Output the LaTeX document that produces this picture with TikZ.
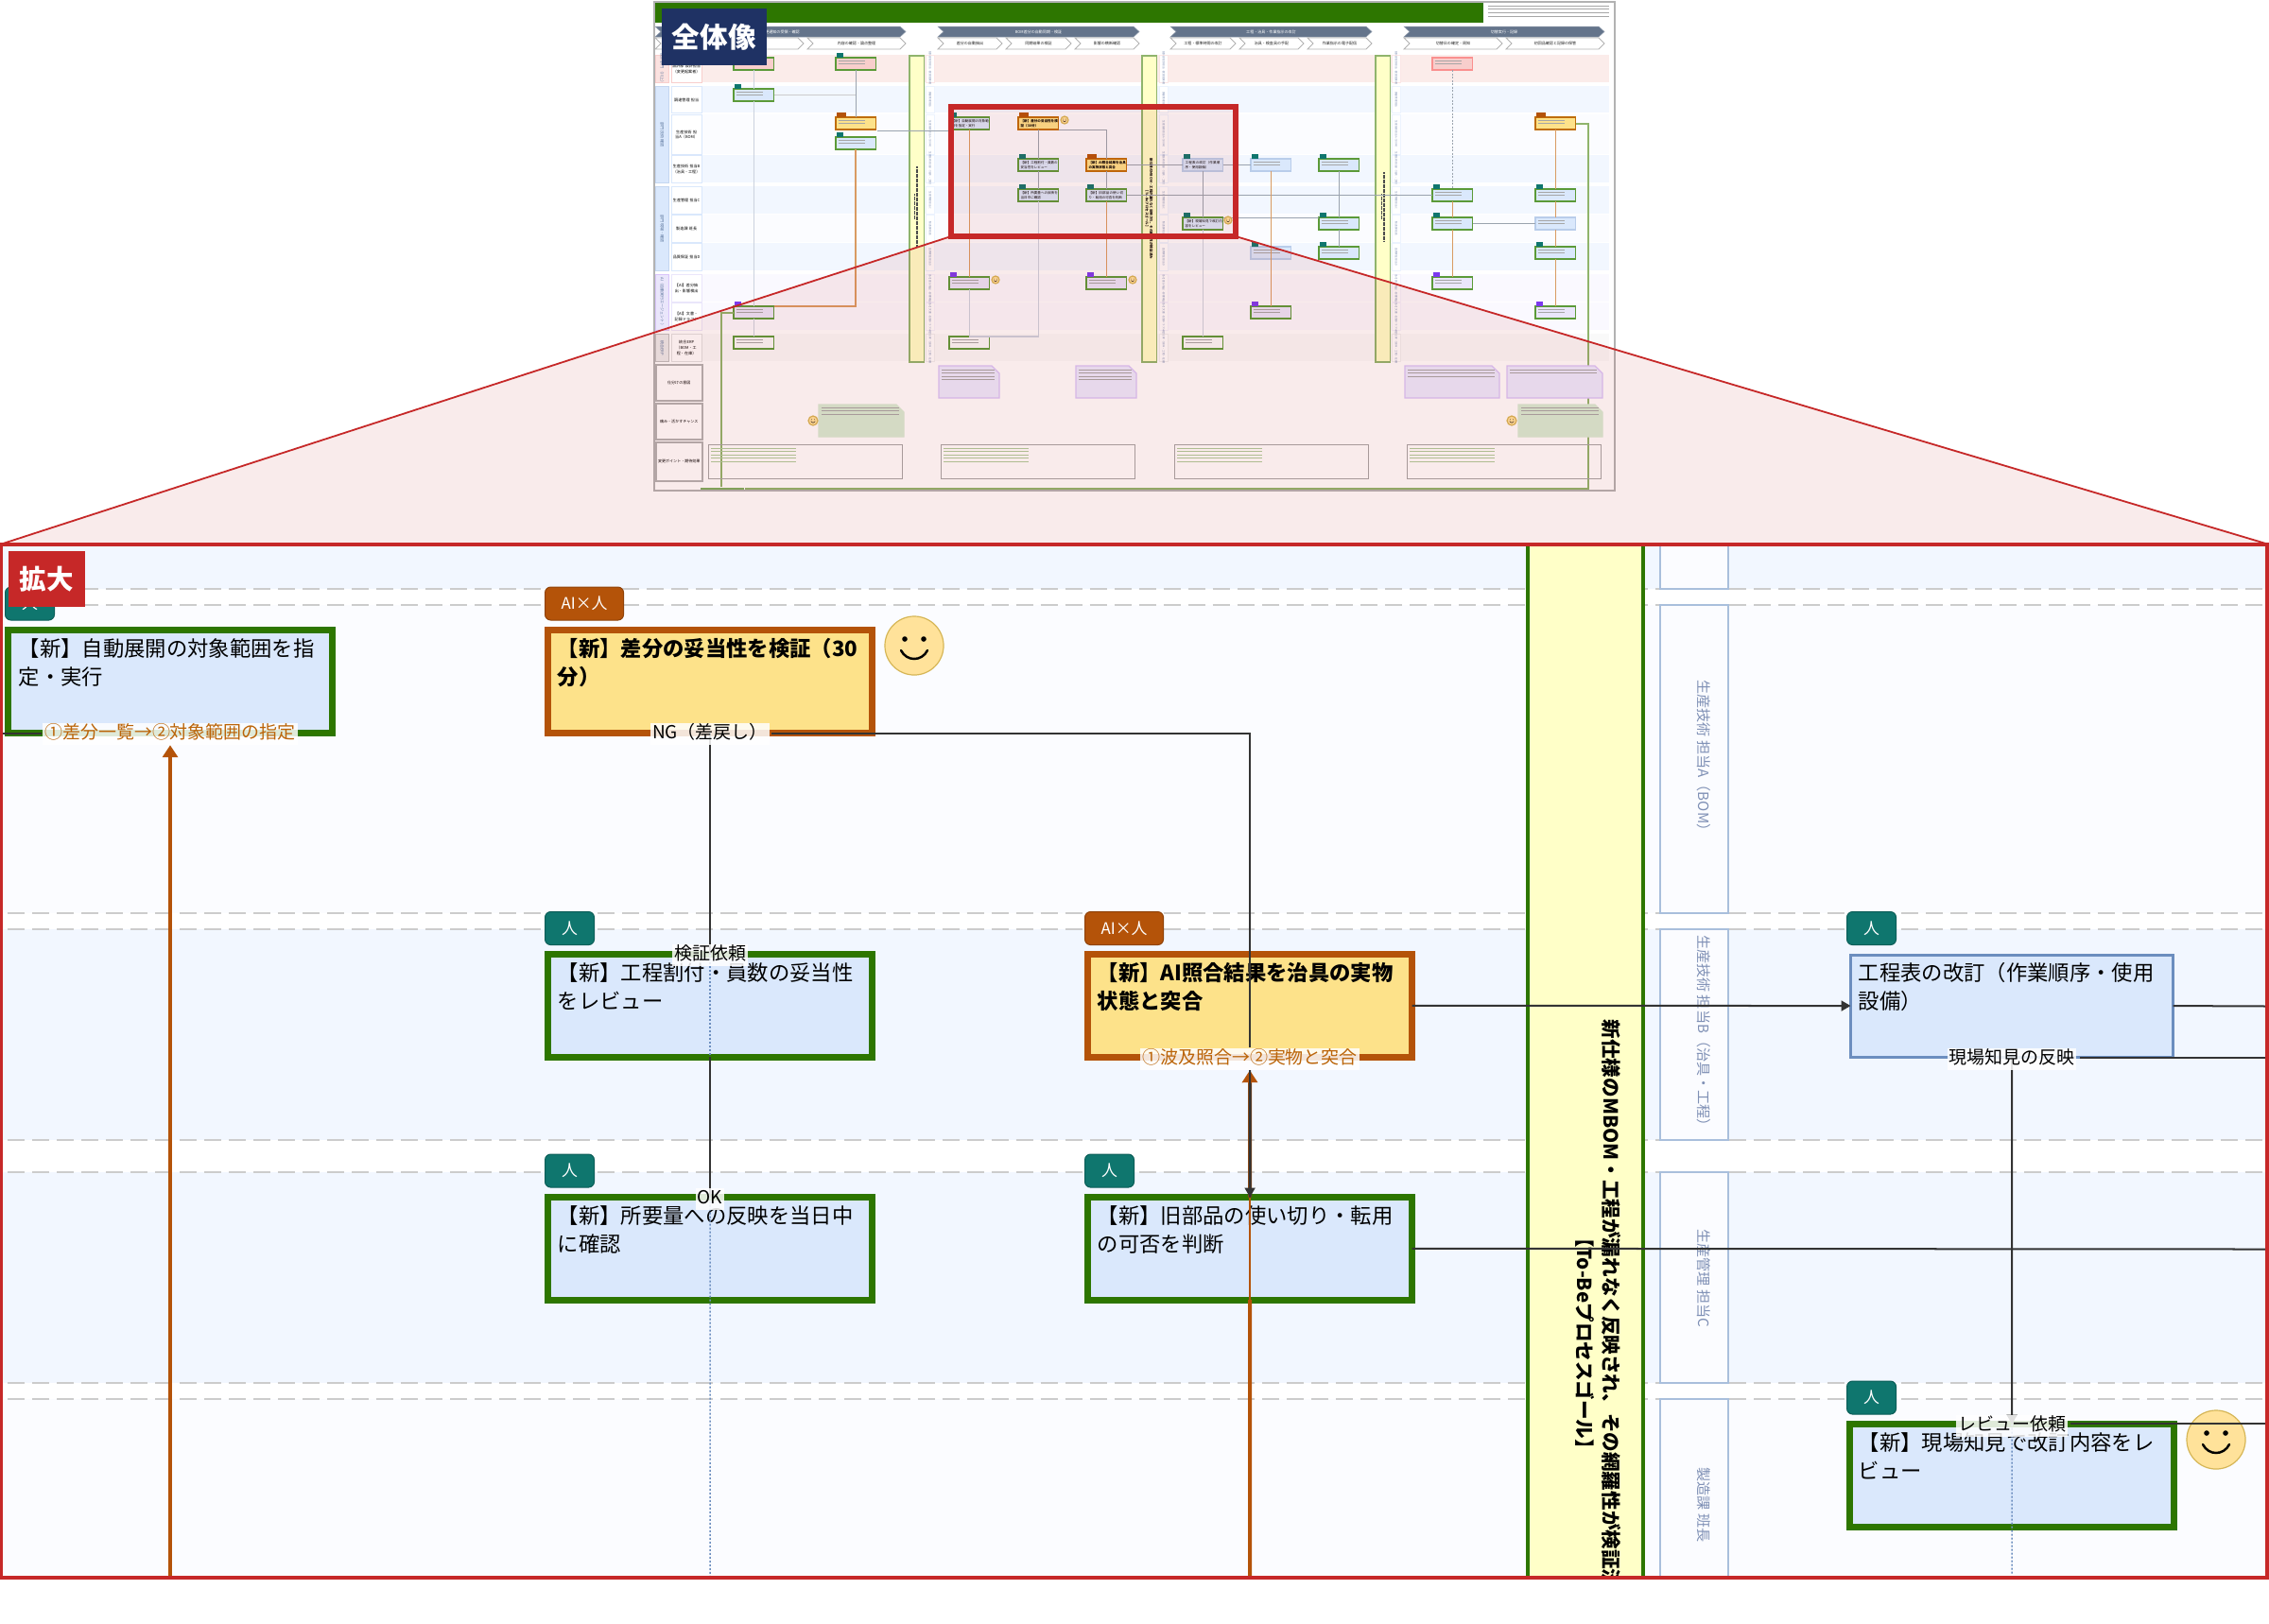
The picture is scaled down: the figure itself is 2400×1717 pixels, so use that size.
\documentclass[tikz,border=0pt]{standalone}
\usepackage{fontspec}
\setmainfont{Noto Sans CJK JP}
\XeTeXlinebreaklocale "ja"
\XeTeXlinebreakskip=0pt plus .1pt
\usetikzlibrary{arrows.meta,calc}
\definecolor{grn}{HTML}{2D7600}
\definecolor{ogn}{HTML}{B45309}
\definecolor{teal1}{HTML}{0F766E}
\definecolor{navy1}{HTML}{1F3264}
\definecolor{red1}{HTML}{C62828}
\definecolor{bluef}{HTML}{DAE8FC}
\definecolor{blueb}{HTML}{6C8EBF}
\definecolor{yelf}{HTML}{FDE28A}
\definecolor{bandf}{HTML}{FFFFC8}
\definecolor{laneA}{HTML}{F2F7FF}
\definecolor{laneB}{HTML}{FBFCFF}
\definecolor{laneR}{HTML}{FBECEA}
\definecolor{laneP}{HTML}{FAF9FF}
\definecolor{laneG}{HTML}{F9F9F9}
\definecolor{dashg}{HTML}{CCCCCC}
\definecolor{strip}{HTML}{A9BFDC}
\definecolor{striptx}{HTML}{7F90B5}
\definecolor{darkl}{HTML}{333333}
\definecolor{facef}{HTML}{FFE29A}
\definecolor{faced}{HTML}{D6B656}
\definecolor{slate}{HTML}{64748B}
\definecolor{ovg}{HTML}{5B9A38}
\definecolor{ovo}{HTML}{C9701F}
\definecolor{ovgray}{HTML}{9AA3AE}
\definecolor{ovpale}{HTML}{CBD2DE}
\definecolor{ovline}{HTML}{8FB46C}
\definecolor{purf}{HTML}{EAE6FB}
\definecolor{purb}{HTML}{7C3AED}
\definecolor{pinkf}{HTML}{F8CECC}
\definecolor{notep}{HTML}{EBEAFF}
\definecolor{noteg}{HTML}{D6ECD4}
\definecolor{grayn}{HTML}{E0E0E0}
\tikzset{
  mainb/.style={draw=grn,fill=bluef,line width=.07cm,minimum width=3.43cm,minimum height=1.085cm,inner sep=0pt,outer sep=0pt,anchor=north west},
  mainy/.style={mainb,draw=ogn,fill=yelf},
  mainth/.style={draw=blueb,fill=bluef,line width=.03cm,minimum width=3.41cm,minimum height=1.08cm,inner sep=0pt,outer sep=0pt,anchor=north west},
  btext/.style={font=\fontsize{6.35pt}{8.4pt}\selectfont,align=left,inner sep=0pt,anchor=north west},
  bbold/.style={font=\fontsize{6.35pt}{8.4pt}\selectfont\bfseries,align=left,inner sep=0pt,anchor=north west},
  badge/.style={rounded corners=.06cm,draw=#1!80!black,fill=#1,text=white,font=\fontsize{4.8pt}{5pt}\selectfont,inner sep=0pt,minimum height=.35cm,line width=.01cm,anchor=north west},
  lab/.style={fill=white,fill opacity=.85,text opacity=1,font=\fontsize{5.4pt}{6pt}\selectfont,inner sep=.02cm,text height=.15cm,text depth=.04cm},
  labo/.style={lab,text=ogn!90!yellow},
  dashl/.style={draw=dashg,line width=.02cm,dash pattern=on .18cm off .08cm},
  sline/.style={draw=darkl,line width=.02cm},
  oline/.style={draw=ogn,line width=.045cm},
  dotl/.style={draw=blueb,line width=.015cm,dash pattern=on .02cm off .02cm},
  tipd/.style={-{Triangle[length=.1cm,width=.11cm]}},
  tipo/.style={-{Triangle[length=.13cm,width=.16cm]}},
  stripb/.style={draw=strip,line width=.012cm,fill=laneB},
  striptext/.style={rotate=-90,text=striptx,font=\fontsize{4.3pt}{5pt}\selectfont,inner sep=0pt},
  ovb/.style={line width=.015cm,minimum width=.425cm,minimum height=.13cm,inner sep=0pt,outer sep=0pt,anchor=north west},
  ovgb/.style={ovb,draw=ovg,fill=bluef},
  ovyb/.style={ovb,draw=ogn!85!yellow,fill=yelf},
  ovpb/.style={ovb,draw=ovg,fill=purf},
  ovrb/.style={ovb,draw=ovg,fill=pinkf},
  ovwb/.style={ovb,draw=ovg,fill=laneG},
  ovtb/.style={ovb,draw=bluef!70!blueb,fill=bluef},
  ovpkb/.style={ovb,draw=pinkf!70!red,fill=pinkf},
  ovt/.style={font=\fontsize{1pt}{1.35pt}\selectfont,align=left,inner sep=0pt,anchor=north west,text width=.4cm},
  ovtx/.style={font=\fontsize{1.15pt}{1.5pt}\selectfont,align=center,inner sep=0pt,text=black!85},
  ovconn/.style={draw=ovgray,line width=.01cm},
  ovpalec/.style={draw=ovpale,line width=.012cm},
  ovorg/.style={draw=ovo!70!white,line width=.012cm},
  phasep/.style={fill=slate,draw=slate!70!white,line width=.005cm},
  subp/.style={fill=white,draw=black!30,line width=.008cm},
  greekl/.style={draw=black!35,line width=.009cm}
}
\newcommand{\greekk}[6]{\foreach \gi in {1,...,#4}{\draw[#6,line cap=butt] (#1,{#2+(\gi-1)*#5}) -- ++(#3,0);}}
\newcommand{\facee}[4]{% name,cx,cy,r
  \node[circle,draw=faced,fill=facef,line width=.012cm,minimum size=#4*.02cm,inner sep=0pt] (#1) at (#2,#3) {};
  \begin{scope}[shift={(#2,#3)},scale=#4/31]
    \fill (-10,-7) circle (2.8); \fill (10,-7) circle (2.8);
    \draw[line width=#4*.0008cm,line cap=round] (-14,5) .. controls (-8,17) and (8,17) .. (14,5);
  \end{scope}}
\newcommand{\ovbx}[4]{\node[#4] (#1) at (#2,#3) {}; \greekk{#2+2.5}{#3+3}{28}{2}{3.5}{greekl}}
\newcommand{\ovbxt}[5]{\node[#4] (#1) at (#2,#3) {}; \node[ovt] (#1t) at (#2+2,#3+2) {#5};}
\newcommand{\ovbd}[5]{\node[fill=#5,inner sep=0pt,minimum width=#4*.01cm,minimum height=.045cm,anchor=north west] (#1) at (#2,#3-5.5) {};}
\newcommand{\chev}[7]{% name x1 x2 y1 y2 style text
  \draw[#6] (#2,#4) -- (#3-6,#4) -- (#3,{(#4+#5)/2}) -- (#3-6,#5) -- (#2,#5) -- (#2+6,{(#4+#5)/2}) -- cycle;
  \node[ovtx] (#1) at ({(#2+#3)/2},{(#4+#5)/2}) {#7};}
\newcommand{\fold}[6]{% x1 y1 x2 y2 fill draw
  \draw[fill=#5,draw=#6,line width=.012cm] (#1,#2) -- (#3-8,#2) -- (#3,#2+8) -- (#3,#4) -- (#1,#4) -- cycle;}
\begin{document}
\begin{tikzpicture}[x=0.01cm,y=-0.01cm]
\useasboundingbox (0,0) rectangle (2400,1717);
\fill[white] (0,0) rectangle (2400,1717);
%% ---------- overview ----------
\foreach \ya/\yb/\cc in {58/87/laneR,91/119/laneA,121/163/laneB,164/193/laneA,197/226/laneA,227/256/laneB,257/286/laneA,290/319/laneP,320/349/laneP,353/382/laneG}{
  \fill[\cc] (743,\ya) rectangle (1702,\yb);
}
\fill[grn] (693,3) rectangle (1569,24);
\greekk{1574}{6}{128}{4}{3.8}{greekl}
% phases
\chev{ph1}{693}{958}{28}{39}{phasep}{\textcolor{white}{変更通知の受領・確認}}
\chev{ph2}{992}{1205}{28}{39}{phasep}{\textcolor{white}{BOM差分の自動同期・検証}}
\chev{ph3}{1238}{1451}{28}{39}{phasep}{\textcolor{white}{工程・治具・作業指示の改訂}}
\chev{ph4}{1485}{1697}{28}{39}{phasep}{\textcolor{white}{切替実行・記録}}
\chev{s11}{693}{850}{40}{52}{subp}{}
\chev{s12}{854}{958}{40}{52}{subp}{内容の確認・論点整理}
\chev{s21}{992}{1060}{40}{52}{subp}{差分の自動抽出}
\chev{s22}{1064}{1133}{40}{52}{subp}{同期結果の検証}
\chev{s23}{1137}{1205}{40}{52}{subp}{影響の横断確認}
\chev{s31}{1238}{1307}{40}{52}{subp}{工程・標準時間の改訂}
\chev{s32}{1311}{1379}{40}{52}{subp}{治具・検査具の手配}
\chev{s33}{1383}{1451}{40}{52}{subp}{作業指示の電子配信}
\chev{s41}{1485}{1589}{40}{52}{subp}{切替日の確定・周知}
\chev{s42}{1593}{1697}{40}{52}{subp}{初回品確認と記録の保管}
% group + lane names
\foreach \nn/\ya/\yb/\cc/\dd/\ttx in {g1/58/87/pinkf!60!white/pinkf/設計部門（川上）,g2/91/193/bluef/bluef!80!blueb/部門 技術確認,g3/197/286/bluef/bluef!80!blueb/部門 現場・確認,g4/290/349/purf/purb!30!white/AI（自動実行エージェント）,g5/353/382/black!8/black!25/統合ERP}{
  \node[fill=\cc,draw=\dd,line width=.01cm,minimum width=.14cm,minimum height={(\yb-\ya)*.01cm},inner sep=0pt,anchor=north west] (\nn) at (693,\ya) {};
  \node[ovtx,rotate=-90,text=blueb!80!black] (\nn t) at (\nn.center) {\ttx};
}
\foreach \nn/\ya/\yb/\dd/\ttx in {
 n1/58/87/pinkf/設計部 設計担当（変更起案者）,
 n2/91/119/bluef/調達管理 担当,
 n3/121/163/bluef/生産技術 担当A（BOM）,
 n4/164/193/bluef/生産技術 担当B（治具・工程）,
 n5/197/226/bluef/生産管理 担当C,
 n6/227/256/bluef/製造課 班長,
 n7/257/286/bluef/品質保証 担当D,
 n8/290/319/purf/【AI】差分抽出・影響検出,
 n9/320/349/purf/【AI】文書・記録ドラフト,
 n10/353/382/grayn/統合ERP（BOM・工程・在庫）}{
  \node[fill=white,draw=\dd,line width=.012cm,minimum width=.32cm,minimum height={(\yb-\ya)*.01cm},inner sep=0pt,anchor=north west,align=center,text width=.3cm,font=\fontsize{1.15pt}{1.6pt}\selectfont] (\nn) at (709.5,\ya) {\ttx};
  \foreach \cx in {979,1226,1472}{
    \node[fill=white,draw=\dd!50!white,line width=.006cm,minimum width=.09cm,minimum height={(\yb-\ya)*.01cm},inner sep=0pt,anchor=north west] (\nn c\cx) at (\cx,\ya) {};
    \node[rotate=-90,font=\fontsize{.75pt}{.9pt}\selectfont,text=striptx,inner sep=0pt] (\nn ct\cx) at (\nn c\cx.center) {\ttx};
  }
}
\foreach \nn/\ya/\yb/\ttx in {n11/385/423/仕分けの意図,n12/426/464/痛み・活かすチャンス,n13/467/508/変更ポイント・期待効果}{
  \node[fill=white,draw=black!30,line width=.015cm,minimum width=.49cm,minimum height={(\yb-\ya)*.01cm},inner sep=0pt,anchor=north west,align=center,font=\fontsize{1.15pt}{1.6pt}\selectfont] (\nn) at (693,\ya) {\ttx};
}
% bands
\foreach \nn/\xa in {bd1/961,bd2/1207,bd3/1454}{
  \node[fill=bandf,draw=ovline,line width=.015cm,minimum width=.155cm,minimum height=3.24cm,inner sep=0pt,anchor=north west] (\nn) at (\xa,58) {};
}
\node[rotate=-90,font=\fontsize{1pt}{1.3pt}\selectfont\bfseries,align=center,inner sep=0pt] (bd2t) at (bd2.center) {新仕様のMBOM・工程が漏れなく反映され、その網羅性が検証済み\\【To-Beプロセスゴール】};
\draw[black!70,line width=.012cm,dash pattern=on .02cm off .005cm] (970,176) -- (970,262);
\draw[black!70,line width=.01cm,dash pattern=on .02cm off .005cm] (967,205) -- (967,232);
\draw[black!70,line width=.012cm,dash pattern=on .02cm off .005cm] (1464,182) -- (1464,256);
\draw[black!70,line width=.01cm,dash pattern=on .02cm off .005cm] (1461,205) -- (1461,232);
% overview boxes
\ovbx{a1}{776}{61}{ovrb}\ovbx{a2}{776}{94}{ovgb}\ovbx{a9}{776}{324}{ovpb}\ovbx{a10}{776}{356}{ovwb}
\ovbx{b1}{884}{61}{ovrb}\ovbx{b3}{884}{124}{ovyb}\ovbx{b3x}{884}{145}{ovgb}
\ovbxt{c3}{1004}{124}{ovgb}{【新】自動展開の対象範囲を指定・実行}\ovbx{c8}{1004}{293}{ovpb}\ovbx{c10}{1004}{356}{ovwb}
\ovbxt{d3}{1077}{124}{ovyb}{\bfseries 【新】差分の妥当性を検証（30分）}\ovbxt{d4}{1077}{168}{ovgb}{【新】工程割付・員数の妥当性をレビュー}\ovbxt{d5}{1077}{200}{ovgb}{【新】所要量への反映を当日中に確認}
\ovbxt{e4}{1149}{168}{ovyb}{\bfseries 【新】AI照合結果を治具の実物状態と突合}\ovbxt{e5}{1149}{200}{ovgb}{【新】旧部品の使い切り・転用の可否を判断}\ovbx{e8}{1149}{293}{ovpb}
\ovbxt{f4}{1251}{168}{ovtb}{工程表の改訂（作業順序・使用設備）}\ovbxt{f6}{1251}{230}{ovgb}{【新】現場知見で改訂内容をレビュー}\ovbx{f10}{1251}{356}{ovwb}
\ovbx{g4x}{1323}{168}{ovtb}\ovbx{g7}{1323}{261}{ovtb}\ovbx{g9}{1323}{324}{ovpb}
\ovbx{h4}{1395}{168}{ovgb}\ovbx{h6}{1395}{230}{ovgb}\ovbx{h7}{1395}{261}{ovgb}
\ovbx{i1}{1515}{61}{ovpkb}\ovbx{i5}{1515}{200}{ovgb}\ovbx{i6}{1515}{230}{ovgb}\ovbx{i8}{1515}{293}{ovpb}
\ovbx{j3}{1624}{124}{ovyb}\ovbx{j5}{1624}{200}{ovgb}\ovbx{j6}{1624}{230}{ovtb}\ovbx{j7}{1624}{261}{ovgb}\ovbx{j9}{1624}{324}{ovpb}
% overview badges
\foreach \nn/\xx/\yy/\ww/\cc in {ba1/776/61/7/teal1,ba2/776/94/7/teal1,ba9/776/324/7/purb,bb1/884/61/7/teal1,bb3/884/124/10/ogn,bb3x/884/145/7/teal1,bc3/1004/124/7/teal1,bc8/1004/293/7/purb,bd3x/1077/124/10/ogn,bd4/1077/168/7/teal1,bd5/1077/200/7/teal1,be4/1149/168/10/ogn,be5/1149/200/7/teal1,be8/1149/293/7/purb,bf4/1251/168/7/teal1,bf6/1251/230/7/teal1,bg4/1323/168/7/teal1,bg7/1323/261/7/teal1,bg9/1323/324/7/purb,bh4/1395/168/7/teal1,bh6/1395/230/7/teal1,bh7/1395/261/7/teal1,bi5/1515/200/7/teal1,bi6/1515/230/7/teal1,bi8/1515/293/7/purb,bj3/1624/124/10/ogn,bj5/1624/200/7/teal1,bj7/1624/261/7/teal1,bj9/1624/324/7/purb}{
  \ovbd{\nn}{\xx}{\yy}{\ww}{\cc}
}
% overview connectors
\draw[ovpalec] (a1.south) -- (a2.north); \draw[ovpalec] (a2.south) -- (a9.north); \draw[ovpalec] (a9.south) -- (a10.north);
\draw[ovconn] (b1.south) -- (b3.north);
\draw[ovorg,line width=.02cm] (b3x.south) -- (b3x.south |- a9.north) -- (a9.north east);
\draw[ovconn,draw=black!20,line width=.015cm] (a2.east) -- (b1.south |- a2.east);
\coordinate (ovs1) at (928,138);
\draw[ovconn] (ovs1) -- (c3.west |- ovs1);
\draw[ovorg] (c3.south) -- (c8.north); \draw[ovpalec] (c8.south) -- (c10.north);
\draw[ovconn] (d3.south) -- (d4.north); \draw[ovconn] (d4.south) -- (d5.north);
\draw[ovpalec] (d5.south) -- (d5.south |- c10.north) -- (c10.north);
\coordinate (ovs2) at (1120,137); 
\draw[ovconn] (ovs2) -- (e4.north |- ovs2) -- (e4.north);
\draw[ovconn] (e4.south) -- (e5.north);
\draw[ovorg] (e5.south) -- (e8.north);
\draw[ovconn] (e4.east) -- (f4.west); \draw[ovconn] (f4.east) -- (g4x.west); \draw[ovconn] (e5.east) -- (i5.west);
\draw[ovconn] (f4.south) -- (f6.north); \draw[ovpalec] (f6.south) -- (f10.north);
\draw[ovconn] (f6.north east) -- (h6.north west);
\draw[ovorg] (g4x.south) -- (g9.north);
\draw[ovconn] (h4.south) -- (h6.north); \draw[ovconn] (h6.south) -- (h7.north);
\draw[ovconn,dash pattern=on .02cm off .015cm] (i1.south) -- (i5.north);
\draw[ovorg] (i5.south) -- (i6.north); \draw[ovorg] (i6.south) -- (i8.north);
\draw[ovconn] (i6.east) -- (j6.west);
\draw[ovorg] (j3.south) -- (j5.north); \draw[ovorg] (j5.south) -- (j6.north); \draw[ovorg] (j6.south) -- (j7.north); \draw[ovorg] (j7.south) -- (j9.north);
\coordinate (ovr) at (1680,131); \coordinate (ovb1) at (1680,517); \coordinate (ovb2) at (763,517); \coordinate (ovb3) at (763,331);
\draw[draw=ovline,line width=.018cm] (j3.east |- ovr) -- (ovr) -- (ovb1) -- (ovb2) -- (ovb3) -- (a9.west |- ovb3);
\fill[white] (740,514.5) rectangle (788,519.5);
\greekk{741}{517}{46}{1}{3}{draw=ovg!80!white,line width=.012cm}
% notes etc
\fold{993}{387}{1057}{421}{notep}{purb!30!white}\greekk{996}{391}{56}{4}{3.5}{greekl}
\fold{1138}{387}{1202}{421}{notep}{purb!30!white}\greekk{1141}{391}{56}{4}{3.5}{greekl}
\fold{1486}{387}{1586}{421}{notep}{purb!30!white}\greekk{1489}{391}{92}{3}{3.5}{greekl}
\fold{1594}{387}{1695}{421}{notep}{purb!30!white}\greekk{1597}{391}{92}{2}{3.5}{greekl}
\fold{866}{428}{956}{462}{noteg}{noteg}\greekk{869}{431}{82}{3}{3.5}{greekl}
\fold{1606}{428}{1695}{462}{noteg}{noteg}\greekk{1609}{431}{82}{3}{3.5}{greekl}
\foreach \nn/\xa/\xb in {p1/749/954,p2/995/1200,p3/1242/1447,p4/1488/1693}{
  \node[draw=black!35,line width=.012cm,minimum width={(\xb-\xa)*.01cm},minimum height=.36cm,inner sep=0pt,anchor=north west] (\nn) at (\xa,470) {};
  \greekk{\xa+3}{474}{90}{5}{3.5}{draw=ovg!50!white,line width=.008cm}
}
\facee{ov1}{1126}{127}{4}\facee{ov2}{1299}{233}{4}\facee{ov3}{1053}{296}{4}\facee{ov4}{1198}{296}{4}\facee{ov5}{860}{445}{5}\facee{ov6}{1599}{445}{5}
% overview frame
\draw[black!30,line width=.025cm] (692,2) rectangle (1708,519);
% trapezoid + highlight overlay
\fill[red1,opacity=.09] (1006,250) -- (1307,250) -- (2400,576) -- (0,576) -- cycle;
\fill[red1,opacity=.09] (1006,113) rectangle (1307,250);
\draw[red1,line width=.018cm] (1006,250) -- (0,576);
\draw[red1,line width=.018cm] (1307,250) -- (2400,576);
\draw[red1,line width=.055cm] (1006,113) rectangle (1307,250);
\node[fill=navy1,text=white,font=\fontsize{8.4pt}{9pt}\selectfont\bfseries,minimum width=1.11cm,minimum height=.6cm,inner sep=0pt,anchor=north west] (zentai) at (699,8) {\raisebox{-.015cm}{全体像}};
%% ---------- main panel ----------
\begin{scope}
\clip (0,576) rectangle (2400,1669);
\fill[white] (0,576) rectangle (2400,1669);
\foreach \ya/\yb/\cc in {576/623/laneA,640/966/laneB,983/1206/laneA,1240/1463/laneA,1480/1669/laneB}{
  \fill[\cc] (0,\ya) rectangle (2400,\yb);
}
\foreach \yy in {623,640,966,983,1206,1240,1463,1480}{
  \draw[dashl] (8,\yy) -- (2396,\yy);
}
% strips
\draw[stripb] (1756,560) rectangle (1828,623);
\draw[stripb] (1756,640) rectangle (1828,966);
\draw[stripb] (1756,983) rectangle (1828,1206);
\draw[stripb] (1756,1240) rectangle (1828,1463);
\draw[stripb] (1756,1480) rectangle (1828,1690);
\node[striptext] (st1) at (1802,803) {生産技術 担当A（BOM）};
\node[striptext] (st2) at (1802,1094) {生産技術 担当B（治具・工程）};
\node[striptext] (st3) at (1802,1352) {生産管理 担当C};
\node[striptext] (st4) at (1802,1592) {製造課 班長};
% band
\node[fill=bandf,draw=grn,line width=.04cm,minimum width=1.22cm,minimum height=11.4cm,inner sep=0pt,outer sep=0pt,anchor=north west] (band) at (1616,550) {};
\node[rotate=-90,anchor=west,font=\fontsize{5.85pt}{6pt}\selectfont\bfseries,inner sep=0pt] (bt1) at (1704,1078) {新仕様のMBOM・工程が漏れなく反映され、その網羅性が検証済み};
\node[rotate=-90,font=\fontsize{5.85pt}{6pt}\selectfont\bfseries,inner sep=0pt] (bt2) at (1676,1421) {【To-Beプロセスゴール】};
% boxes
\node[mainb] (mb1) at (8.5,666.5) {};
\node[mainy] (mb2) at (579.5,666.5) {};
\node[mainb] (mb3) at (579.5,1009.5) {};
\node[mainy] (mb4) at (1150.5,1009.5) {};
\node[mainth] (mb5) at (1957.5,1010) {};
\node[mainb] (mb6) at (579.5,1266.5) {};
\node[mainb] (mb7) at (1150.5,1266.5) {};
\node[mainb] (mb8) at (1956.5,1506.5) {};
\node[btext] (mt1) at (19,675) {【新】自動展開の対象範囲を指\\定・実行};
\node[bbold] (mt2) at (589,675) {【新】差分の妥当性を検証（30\\分）};
\node[btext] (mt3) at (589,1018) {【新】工程割付・員数の妥当性\\をレビュー};
\node[bbold] (mt4) at (1160,1018) {【新】AI照合結果を治具の実物\\状態と突合};
\node[btext] (mt5) at (1965,1018) {工程表の改訂（作業順序・使用\\設備）};
\node[btext] (mt6) at (589,1275) {【新】所要量への反映を当日中\\に確認};
\node[btext] (mt7) at (1160,1275) {【新】旧部品の使い切り・転用\\の可否を判断};
\node[btext] (mt8) at (1965,1515) {【新】現場知見で改訂内容をレ\\ビュー};
% badges
\node[badge=teal1,minimum width=.52cm] (bg1) at (5,620.5) {人};
\node[badge=ogn,minimum width=.83cm] (bg2) at (576,620.5) {AI×人};
\node[badge=teal1,minimum width=.52cm] (bg3) at (576,964) {人};
\node[badge=ogn,minimum width=.83cm] (bg4) at (1147,964) {AI×人};
\node[badge=teal1,minimum width=.52cm] (bg5) at (1953,964) {人};
\node[badge=teal1,minimum width=.52cm] (bg6) at (576,1220.5) {人};
\node[badge=teal1,minimum width=.52cm] (bg7) at (1147,1220.5) {人};
\node[badge=teal1,minimum width=.52cm] (bg8) at (1953,1460.5) {人};
\facee{fa1}{967}{683}{31}
\facee{fa2}{2344}{1523}{31}
% free ends
\coordinate (botA) at (180,1669); \coordinate (botB) at (1322,1669); \coordinate (botC) at (751,1669); \coordinate (botD) at (2128,1665);
\coordinate (ngs) at (816,776); \coordinate (ngc) at (1322,776);
\coordinate (ledge) at (0,776);
\coordinate (r5a) at (2400,1064.5); \coordinate (r5b) at (2400,1119); \coordinate (r5s) at (2200,1119); \coordinate (r7) at (2400,1321.5); \coordinate (r8) at (2400,1505.5); \coordinate (r8s) at (2190,1505.5);
% connectors
\draw[sline] (ledge) -- (44,776);
\draw[oline,line width=.04cm] (botB) -- (mb7.south);
\draw[sline] (mb2.south) -- (mb3.north);
\draw[dotl] (mb3.north) -- (mb3.south);
\draw[sline] (mb3.south) -- (mb6.north);
\draw[dotl] (mb6.north) -- (botC);
\draw[sline,tipd] (mb4.east) -- (mb5.west);
\draw[sline] (mb5.east) -- (r5a);
\draw[sline] (r5s) -- (r5b);
\draw[sline] (mb7.east) -- (r7);
\draw[sline,tipd] (mb5.south) -- (mb8.north);
\draw[dotl] (mb8.north) -- (botD);
\draw[sline] (r8s) -- (r8);
% labels
\node[labo] (l1) at (180,776) {①差分一覧→②対象範囲の指定};
\node[lab] (l2) at (751,776) {NG（差戻し）};
\node[lab] (l3) at (751,1010) {検証依頼};
\node[lab] (l4) at (751,1268) {OK};
\node[labo] (l5) at (1322,1120) {①波及照合→②実物と突合};
\node[lab] (l6) at (2128,1120) {現場知見の反映};
\node[lab] (l7) at (2128,1508) {レビュー依頼};
\draw[oline,tipo] (botA) -- (l1.south);
\draw[oline,line width=.04cm,tipo] (mb7.north) -- (l5.south);
\draw[draw=ogn,line width=.015cm] (mb7.south) -- (mb7.north);
\draw[sline,line width=.03cm] (l5.south) ++(0,14) -- (mb7.north);
\draw[sline] (ngs) -- (ngc) -- (l5.north);
\draw[sline,tipd] (l5.south) -- (mb7.north);
\end{scope}
\draw[red1,line width=.042cm] (1,576) rectangle (2398,1669);
\node[fill=red1,text=white,font=\fontsize{8.1pt}{9pt}\selectfont\bfseries,minimum width=.81cm,minimum height=.595cm,inner sep=0pt,anchor=north west] (kakudai) at (8,582) {\raisebox{-.025cm}{拡大}};
\end{tikzpicture}
\end{document}
